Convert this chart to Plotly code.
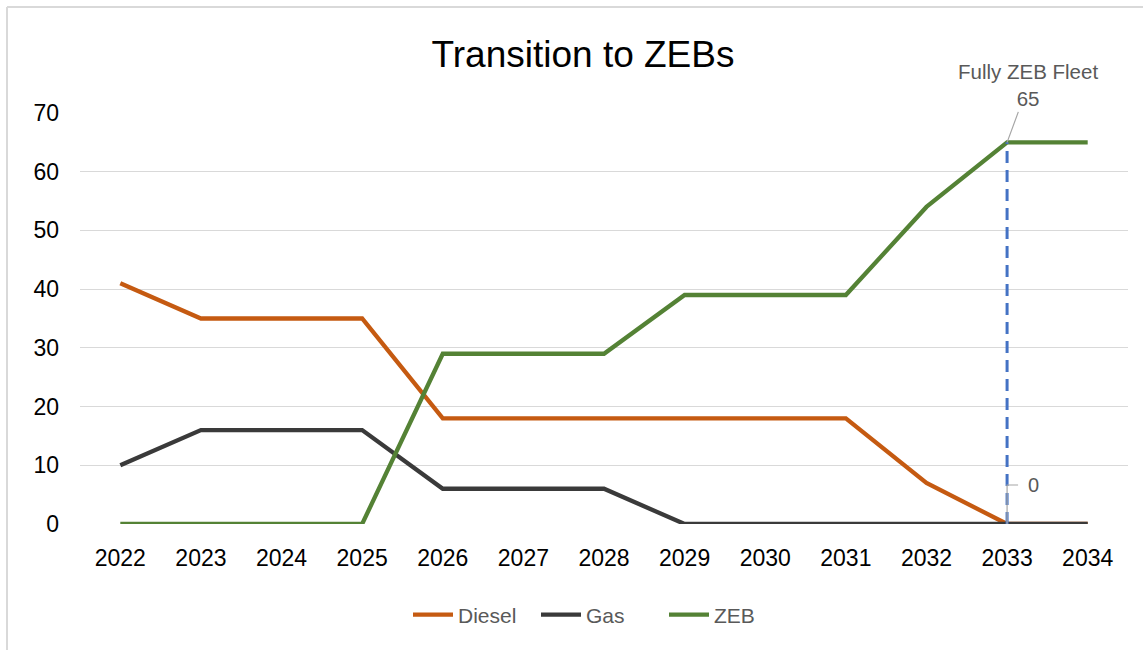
import plotly.graph_objects as go

years = [2022, 2023, 2024, 2025, 2026, 2027, 2028, 2029, 2030, 2031, 2032, 2033, 2034]
diesel = [41, 35, 35, 35, 18, 18, 18, 18, 18, 18, 7, 0, 0]
gas = [10, 16, 16, 16, 6, 6, 6, 0, 0, 0, 0, 0, 0]
zeb = [0, 0, 0, 0, 29, 29, 29, 39, 39, 39, 54, 65, 65]
y_ticks = [0, 10, 20, 30, 40, 50, 60, 70]
full_zeb_year = 2033
full_zeb_value = 65

FONT = "Liberation Sans, Arial, sans-serif"
W, H = 1143, 650
L, R, T, B = 80, 15, 113, 126

fig = go.Figure()
for name, vals, col in [("Diesel", diesel, "#C55A11"),
                        ("Gas", gas, "#3A3A3A"),
                        ("ZEB", zeb, "#548235")]:
    fig.add_trace(go.Scatter(x=years, y=vals, name=name, mode="lines",
                             line=dict(color=col, width=4.3)))

# dashed vertical marker at full ZEB year
fig.add_shape(type="line", xref="x", yref="y",
              x0=full_zeb_year, x1=full_zeb_year, y0=0, y1=full_zeb_value,
              line=dict(color="#4472C4", width=3, dash="12px,7px"), layer="above")

# leader for "0" label (elbow)
fig.add_shape(type="path", xref="x", yref="y",
              xsizemode="pixel", ysizemode="pixel",
              xanchor=full_zeb_year, yanchor=0,
              path="M0,0 V39 H11",
              line=dict(color="#A6A6A6", width=1.2), layer="above")
fig.add_annotation(x=full_zeb_year, y=0, xref="x", yref="y", text="0",
                   showarrow=False, xshift=26, yshift=39,
                   font=dict(family=FONT, size=20, color="#595959"))

fig.add_annotation(x=full_zeb_year, y=full_zeb_value, xref="x", yref="y",
                   text="Fully ZEB Fleet<br>65", showarrow=True,
                   arrowhead=0, arrowwidth=1.2, arrowcolor="#A6A6A6",
                   ax=21, ay=-57, standoff=0,
                   font=dict(family=FONT, size=20.5, color="#595959"))

pw = W - L - R
ph = H - T - B

# chart border (left & top)
fig.add_shape(type="line", xref="paper", yref="paper",
              x0=(7 - L) / pw, x1=(7 - L) / pw, y0=(H - B - H) / ph, y1=(H - B - 7) / ph,
              line=dict(color="#D9D9D9", width=2))
fig.add_shape(type="line", xref="paper", yref="paper",
              x0=(7 - L) / pw, x1=(W - L) / pw, y0=(H - B - 7) / ph, y1=(H - B - 7) / ph,
              line=dict(color="#D9D9D9", width=2))

fig.update_layout(
    width=W, height=H,
    margin=dict(l=L, r=R, t=T, b=B, autoexpand=False),
    paper_bgcolor="white", plot_bgcolor="white",
    title=dict(text="Transition to ZEBs", x=583 / W, xref="container", xanchor="center",
               y=1 - 54 / H, yref="container", yanchor="middle",
               font=dict(family=FONT, size=37, color="#000000")),
    font=dict(family=FONT),
    xaxis=dict(range=[years[0] - 0.5, years[-1] + 0.5], tickvals=years,
               ticktext=[str(y) for y in years], showgrid=False, zeroline=False,
               showline=False, ticks="", ticklabelstandoff=18,
               tickfont=dict(family=FONT, size=23, color="#000000")),
    yaxis=dict(range=[0, 70], tickvals=y_ticks, showgrid=True, gridcolor="#D9D9D9",
               gridwidth=1, zeroline=False, showline=False, ticks="",
               ticklabelstandoff=20,
               tickfont=dict(family=FONT, size=23, color="#000000")),
    legend=dict(orientation="h", x=(408 - L) / pw, xanchor="left",
                y=(H - B - 615) / ph, yanchor="middle",
                font=dict(family=FONT, size=21, color="#595959"),
                itemwidth=40, tracegroupgap=0,
                entrywidth=73, entrywidthmode="pixels"),
    showlegend=True,
)

fig.write_html("out.html", config={"displayModeBar": False},
               post_script="document.body.style.margin='0px';document.body.style.padding='0px';")
